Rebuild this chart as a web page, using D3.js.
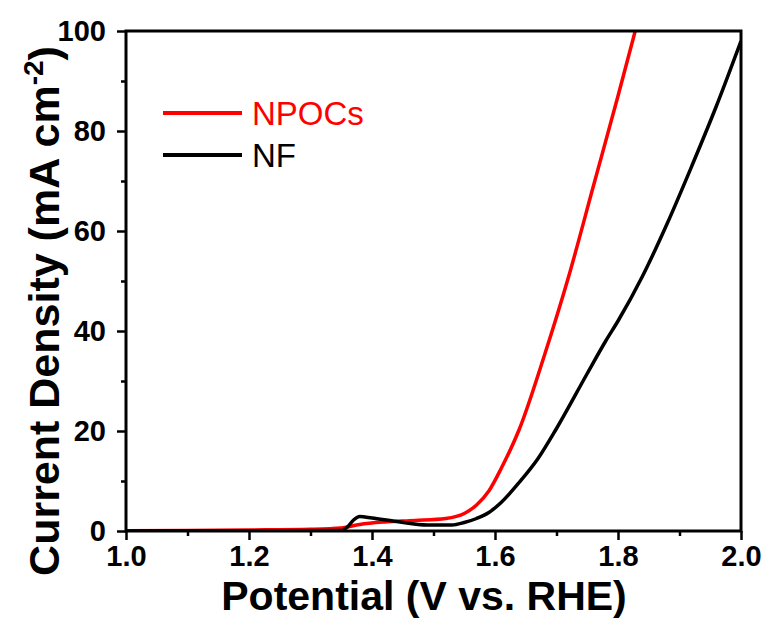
<!DOCTYPE html>
<html>
<head>
<meta charset="utf-8">
<script src="https://cdn.jsdelivr.net/npm/d3@7"></script>
<style>
  body { margin: 0; background: #fff; }
  svg { display: block; }
</style>
</head>
<body>
<div id="container"></div>
<script>
// potential (V vs. RHE) and current density (mA cm-2)
const npocsV = [1.00, 1.10, 1.20, 1.30, 1.35, 1.38, 1.42, 1.47, 1.52, 1.55, 1.57, 1.59, 1.61, 1.64, 1.68, 1.72, 1.76, 1.80, 1.828];
const npocsJ = [0.05, 0.1, 0.2, 0.35, 0.6, 1.3, 1.8, 2.1, 2.5, 3.5, 5.2, 8.0, 12.5, 20.5, 35, 51, 69, 87, 100];

const nfV = [1.00, 1.20, 1.35, 1.36, 1.37, 1.38, 1.40, 1.44, 1.49, 1.53, 1.55, 1.57, 1.59, 1.61, 1.64, 1.67, 1.70, 1.75, 1.78, 1.80, 1.84, 1.88, 1.92, 1.96, 2.00];
const nfJ = [0, 0.05, 0.1, 0.8, 2.2, 2.9, 2.6, 1.9, 1.2, 1.2, 1.7, 2.5, 3.7, 5.7, 9.8, 14.5, 20.5, 31.5, 38, 42, 51, 61.5, 73, 85, 98];

const seriesNames = ["NPOCs", "NF"];
const seriesColors = ["#ff0000", "#000000"];

const xTicks = [1.0, 1.2, 1.4, 1.6, 1.8, 2.0];
const xMinor = [1.1, 1.3, 1.5, 1.7, 1.9];
const yTicks = [0, 20, 40, 60, 80, 100];
const yMinor = [10, 30, 50, 70, 90];

const W = 770, H = 619;
const margin = { left: 126, top: 31, right: 29, bottom: 88 };
const width = W - margin.left - margin.right;
const height = H - margin.top - margin.bottom;

const x = d3.scaleLinear().domain([1.0, 2.0]).range([0, width]);
const y = d3.scaleLinear().domain([0, 100]).range([height, 0]);

const svg = d3.select("#container").append("svg")
    .attr("width", W)
    .attr("height", H)
    .style("font-family", "'Liberation Sans', Arial, sans-serif");

const g = svg.append("g")
    .attr("transform", `translate(${margin.left},${margin.top})`);

// clip so lines stop at the frame
g.append("clipPath").attr("id", "clip")
  .append("rect").attr("width", width).attr("height", height);

const line = d3.line()
    .x(d => x(d[0]))
    .y(d => y(d[1]))
    .curve(d3.curveMonotoneX);

const series = [
    d3.zip(npocsV, npocsJ),
    d3.zip(nfV, nfJ)
];

g.append("g").attr("clip-path", "url(#clip)")
  .selectAll("path")
  .data(series)
  .join("path")
    .attr("d", line)
    .attr("fill", "none")
    .attr("stroke", (d, i) => seriesColors[i])
    .attr("stroke-width", 3.5)
    .attr("stroke-linejoin", "round");

// axes
function styleAxis(sel) {
    sel.select(".domain").remove();
    sel.selectAll("line").attr("stroke", "#000").attr("stroke-width", 2.5);
    sel.selectAll("text")
        .attr("fill", "#000")
        .attr("font-size", "29px")
        .attr("font-weight", "bold")
        .attr("font-family", "'Liberation Sans', Arial, sans-serif");
}

g.append("g")
    .attr("transform", `translate(0,${height})`)
    .call(d3.axisBottom(x).tickValues(xTicks).tickSize(9).tickPadding(5).tickFormat(d3.format(".1f")))
    .call(styleAxis);

g.append("g")
    .attr("transform", `translate(0,${height})`)
    .call(d3.axisBottom(x).tickValues(xMinor).tickSize(5).tickFormat(""))
    .call(styleAxis);

g.append("g")
    .call(d3.axisLeft(y).tickValues(yTicks).tickSize(9).tickPadding(11))
    .call(styleAxis);

g.append("g")
    .call(d3.axisLeft(y).tickValues(yMinor).tickSize(5).tickFormat(""))
    .call(styleAxis);

// frame
g.append("rect")
    .attr("width", width)
    .attr("height", height)
    .attr("fill", "none")
    .attr("stroke", "#000")
    .attr("stroke-width", 3);

// axis titles
svg.append("text")
    .attr("x", 424)
    .attr("y", 610)
    .attr("text-anchor", "middle")
    .attr("font-size", "41px")
    .attr("font-weight", "bold")
    .text("Potential (V vs. RHE)");

const yt = svg.append("text")
    .attr("transform", "translate(59,311) rotate(-90)")
    .attr("text-anchor", "middle")
    .attr("font-size", "43px")
    .attr("font-weight", "bold");
yt.append("tspan").text("Current Density (mA cm");
yt.append("tspan").attr("font-size", "28px").attr("dy", -16).text("-2");
yt.append("tspan").attr("dy", 16).text(")");

// legend
const legend = svg.append("g").attr("transform", "translate(163,113)");
const items = legend.selectAll("g")
    .data(seriesNames)
    .join("g")
    .attr("transform", (d, i) => `translate(0,${i * 42})`);

items.append("line")
    .attr("x1", 0).attr("x2", 79)
    .attr("stroke", (d, i) => seriesColors[i])
    .attr("stroke-width", 4);

items.append("text")
    .attr("x", 89)
    .attr("y", 12)
    .attr("font-size", "33px")
    .attr("fill", (d, i) => seriesColors[i])
    .text(d => d);
</script>
</body>
</html>
